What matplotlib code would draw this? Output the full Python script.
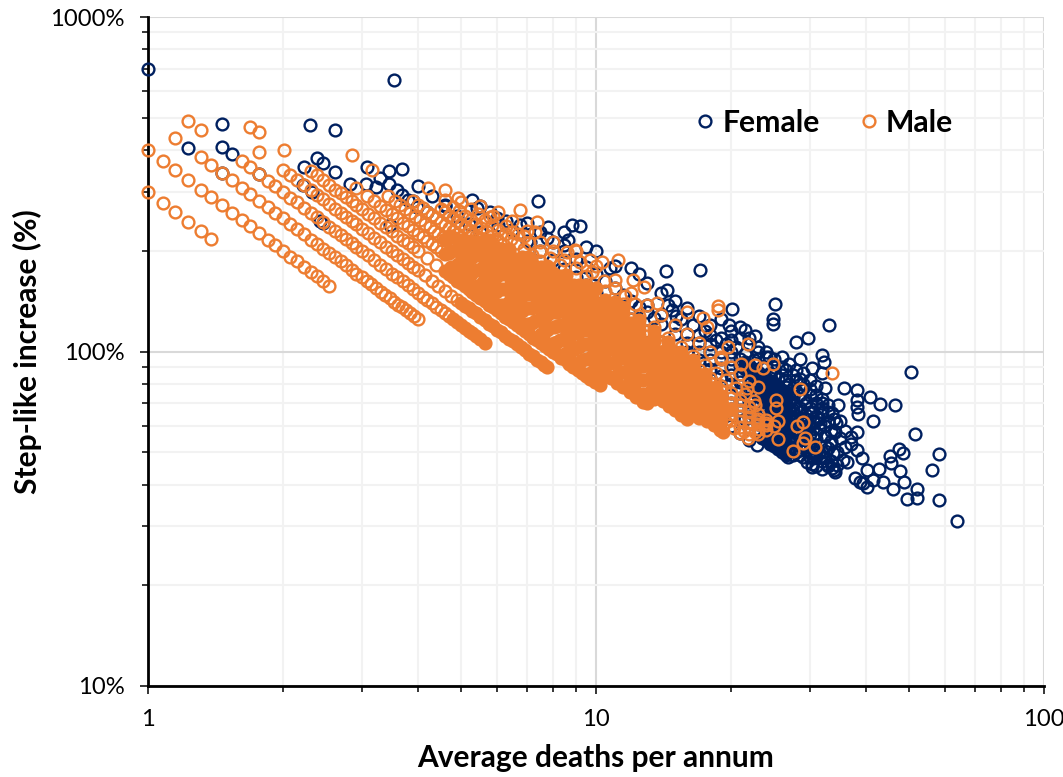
import matplotlib
matplotlib.use('Agg')
import matplotlib.pyplot as plt
from matplotlib.lines import Line2D
from matplotlib.ticker import LogLocator, NullFormatter

# (average deaths per annum, step-like increase %)
female_outliers = [
    (1.0,700),(3.54,649),(1.228,405),(1.46,479),(1.46,408),(1.54,389),(1.46,342),(1.77,339),(2.3,475),(2.61,459),
    (2.23,356),(2.38,379),(2.46,366),(2.61,344),(2.22,315),(2.32,300),(2.42,245),(2.46,243),(3.08,356),(3.45,347),
    (3.69,351),(3.45,317),(3.06,317),(2.82,317),(3.22,310),(3.69,294),(3.8,284),(3.98,270),(3.47,239),(4.6,274),
    (5.3,284),(5.43,268),(5.8,261),(6.04,239),(7.42,282),(6.77,239),(8.85,239),(9.2,238),(8.64,215),(8.5,208),
    (7.78,218),(7.13,212),(10.75,178),(14.3,174),(17.1,175),(14.4,153),(14.5,138),(14.8,133),(15.1,128),(20.1,134),
    (19.8,120),(25.1,139),(24.8,125),(24.8,121),(21.5,116),(22.6,111),(28,107),(29.8,110),(33.2,120),(26,96),
    (24.3,96),(32,97.6),(32.2,93),(30.4,89),(32,86),(50.4,87),(35.8,78),(38.2,76.5),(40.9,73),(43,69.6),
    (46.4,69),(38.2,71.6),(38.2,68.3),(38.4,65),(41.5,62),(51.4,56.7),(58.3,49.4),(56.3,44.3),(47.4,51.2),(48.5,49.7),
    (45.3,48.7),(45.6,46.4),(47.7,44),(42.8,44.5),(48.8,40.7),(43.8,40.7),(46,38.9),(52,38.9),(52,36.5),(49.4,36.2),
    (58.4,36),(64,31.2),(40.3,39.4),(37.8,41.9),(38.9,40.7),(39.5,40.5),(41.5,41.4),(40.2,44.3),(38.2,57.4),(37,55.5),
    (39.2,48.2),(38.2,50.8),(37,53),(36,51.8),(36.4,46.8),(34.2,43.6),(33.6,44.8),(32.9,45.8),(34.5,45.8),(30.4,45.2),
    (29.6,46.8),(34.7,69),(34.4,61),(34.1,57.4),(33.6,65.6),(32,67.7),(32.4,78),(31.6,61),(31,57),(33.8,49.8),
]
female_band = [
    (18,66.7),(19,63.2),(20,60),(21,57.1),(22,54.5),(22.9,52.4),
    (18,72.2),(19,68.4),(20,65),(21,61.9),(22,59.1),(23,56.5),(24,54.2),(25,52),(26,50),(26.8,48.5),
    (20,67.5),(21.5,62.8),(23,58.7),(24.5,55.1),(26,51.9),(27.5,49.1),
    (18,77.8),(19,73.7),(20,70),(21,66.7),(22,63.6),(23,60.9),(24,58.3),(25,56),(26,53.8),(27,51.9),(28,50),(29,48.3),(30.4,46),
    (21,69),(22.5,64.4),(24,60.4),(25.5,56.9),(27,53.7),(28.5,50.9),(30,48.3),
    (16,93.8),(17,88.2),(18,83.3),(19,78.9),(20,75),(21,71.4),(22,68.2),(23,65.2),(24,62.5),(25,60),(26,57.7),(27,55.6),
    (28,53.6),(29,51.7),(30,50),(31,48.4),(32,46.9),(33,45.5),(34,44.1),
    (22,70.5),(23.5,66),(25,62),(26.5,58.5),(28,55.4),(29.5,52.5),(31,50),
    (16,100),(17,94.1),(18,88.9),(19,84.2),(20,80),(21,76.2),(22,72.7),(23,69.6),(24,66.7),(25,64),(26,61.5),(27,59.3),
    (28,57.1),(29,55.2),(30,53.3),(31,51.6),(32,50),
    (15,113),(16,106),(17,100),(18,94.4),(19,89.5),(20,85),(21,81),(22,77.3),(23,73.9),(24,70.8),(25,68),(26,65.4),
    (27,63),(28,60.7),(29,58.6),(30,56.7),(31,54.8),(33,51.5),
    (13,138),(14,129),(15,120),(16,112.5),(17,106),(18,100),(19,94.7),(20,90),(21,85.7),(22,81.8),(23,78.3),(24,75),
    (25,72),(26,69.2),(27,66.7),(28,64.3),(29,62.1),(30,60),
    (17,112),(18,105.6),(19,100),(20,95),(21,90.5),(22,86.4),(23,82.6),(24,79.2),(25,76),(26,73),(27,70.4),(28,67.9),
    (20,100),(21,95.2),(22,90.9),(23,87),(24,83.3),(25,80),(26,76.9),(27,74),
]
female_top = [
    (5.5,273),(6,250),(6.5,231),(7,214),(7.5,200),(8,187.5),(8.5,176),(9,167),(9.5,158),(10,150),(11,136),(12,125),(13,115),(14,107),(15,100),
    (7,243),(7.5,227),(8,212),(8.5,200),(9,189),(9.5,179),(10,170),(10.5,162),(11,155),(11.5,148),(12,142),(12.5,136),(13,131),(13.5,126),(14,121),
    (3.3,330),(3.6,305),(3.9,282),(4.2,262),
    (4,312),(4.3,291),(4.6,272),(4.9,255),(5.2,240),(5.5,227),
    (27,80),(28,76),(29,72),(30,68),(31,64),(29,78),(30,74),(31,70),(32,66),(33,62),(34,58),(32,72),(33,69),(35,62),(36,58),
    (35,55),(33.5,54),(32.5,52),(34.5,50),(35.5,47.5),(31,45.5),(32,44.5),(30,66),(29,86),(30,82),(31,79),(28,88),(27,92),
    (28.5,95),(26,85),(25,90),(24,96),(23,100),(22,105),(21,110),(20,115),(19,125),(18,120),(17,128),(16,135),(15,142),(14,150),
    (13,160),(12.5,170),(12,178),(11,180),(10,200),(9.5,205),(8.5,228),(7.8,235),(6.3,245),
    (27.5,50.9),(28.5,49.1),(27.5,54.5),(28.5,52.6),(29.5,50.8),(27.5,58.2),(28.5,56.1),(29.5,54.2),(30.5,52.5),
    (27.5,61.8),(28.5,59.6),(29.5,57.6),(30.5,55.7),(27.5,65.5),(28.5,63.2),(29.5,61),(27.5,69.1),(27.5,72.7),
    (27.5,78),(28.5,74),(29.5,70),(30.5,66),(31.5,63),(32.5,60),(33.5,58),(28,82),(29,80),(30,77),(31,74),(32,70),(33,66),(34,63),
    (28.5,68),(29.5,64.5),(30.5,62),(31.5,59),(32.5,56),(33.5,53),(30.5,48),(31.5,50),(32.5,48.5),(33.5,47),(26.5,88),(27.5,85),
    (28.5,83),(26,90),(25,95),(24,100),(23,103),(22,110),(23,95),(21,118),(20,108),(19,110),(18,112),(24,90),(25,85),
    (30.5,58.5),(29.5,59.5),(28.5,66),(27.5,67),(27.5,75.5),(26.5,78.5),(26.5,82),(25.5,83),(24.5,86),(23.5,90),(22.5,94),
    (21.5,98),(20.5,103),(19.5,105),(18.5,108),(17.5,115),(16.5,120),(15.5,125),
]
# densest patch of the female cloud, rings closed up
female_core = [
    (23.5,55.3),(24.5,53),(25.5,51),(26.5,49),
    (24.5,57.1),(25.5,54.9),(26.5,52.8),
    (24.5,61.2),(25.5,58.8),(26.5,56.6),
    (24.5,65.3),(25.5,62.7),(26.5,60.4),
    (23.5,72.3),(24.5,69.4),(25.5,66.7),(26.5,64.2),
    (22.5,80),(23.5,76.6),(24.5,73.5),(25.5,70.6),(26.5,67.9),
    (21.5,88.4),(22.5,84.4),(23.5,80.9),(24.5,77.6),(25.5,74.5),(26.5,71.7),
    (21.5,93),(22.5,88.9),(23.5,85.1),(24.5,81.6),(25.5,78.4),(26.5,75.5),
]

male_low = [
    (1.0,300),(1.08,278),(1.15,261),(1.23,244),(1.31,229),(1.38,217),
    (1.0,400),(1.08,370),(1.15,348),(1.23,325),(1.31,305),(1.38,290),(1.46,274),(1.54,260),(1.62,247),(1.69,237),(1.77,226),
    (1.85,216),(1.92,208),(2.0,200),(2.08,192),(2.15,186),(2.23,179),(2.31,173),(2.38,168),(2.46,163),(2.54,157),
    (1.15,435),(1.31,382),(1.38,362),(1.46,342),(1.54,325),(1.62,309),(1.69,296),(1.77,282),(1.85,270),(1.92,260),(2.0,250),
    (2.08,240),(2.15,233),(2.23,224),(2.31,216),(2.38,210),(2.46,203),(2.54,197),(2.62,191),(2.69,186),(2.77,181),(2.85,175),
    (2.92,171),(3.0,167),(3.08,162),(3.15,159),(3.23,155),(3.31,151),(3.38,148),(3.46,145),(3.54,141),(3.62,138),(3.69,136),
    (3.77,133),(3.85,130),(3.92,128),(4.0,125),
    (1.62,370),(1.69,355),(1.77,339),(1.85,324),(1.92,312),(2.0,300),(2.08,288),(2.15,279),(2.23,269),(2.31,260),(2.38,252),
    (2.46,244),(2.54,236),(2.62,229),(2.69,223),(2.77,217),(2.85,211),(2.92,205),(3.0,200),(3.1,194),(3.2,188),(3.3,182),
    (3.4,176),(3.5,171),(3.6,167),(3.7,162),(3.8,158),(3.9,154),(4.0,150),(4.1,146),(4.2,143),(4.3,140),(4.4,136),(4.5,133),
    (4.6,130),(4.7,128),
    (2.0,350),(2.08,337),(2.15,326),(2.23,314),(2.31,303),(2.38,294),(2.46,285),(2.54,276),(2.62,267),(2.69,260),(2.77,253),
    (2.85,246),(2.92,240),(3.0,233),(3.1,226),(3.2,219),(3.3,212),(3.4,206),(3.5,200),(3.6,194),(3.7,189),(3.8,184),(3.9,179),
    (4.0,175),(4.15,169),(4.3,163),(4.45,157),(4.6,152),(4.75,147),(4.9,143),
    (2.31,346),(2.38,336),(2.46,325),(2.54,315),(2.62,305),(2.69,297),(2.77,289),(2.85,281),(2.92,274),(3.0,267),(3.1,258),
    (3.2,250),(3.3,242),(3.4,235),(3.5,229),(3.6,222),(3.7,216),(3.8,211),(3.9,205),(4.0,200),(4.2,190),(4.4,182),
]
male_high = [
    (2.92,308),(3.08,292),(3.2,281),(3.3,273),(3.4,265),(3.5,257),(3.6,250),(3.7,243),(3.8,237),(3.9,231),(4.0,225),(4.1,220),
    (4.2,214),(4.3,209),(4.4,205),(4.5,200),
    (3.43,292),(3.55,282),(3.65,274),(3.75,267),(3.85,260),(3.95,253),(4.05,247),(4.15,241),(4.25,235),(4.35,230),(4.45,225),
    (4.55,220),(4.7,213),(4.85,206),
    (3.9,282),(4.0,275),(4.1,268),(4.2,262),(4.3,256),(4.4,250),(4.5,244),(4.6,239),(4.7,234),(4.8,229),(4.9,224),(5.0,220),(5.15,214),
    (4.5,267),(4.6,261),(4.7,255),(4.8,250),(4.9,245),(5.0,240),(5.1,235),(5.2,231),(5.3,226),(5.4,222),(5.5,218),
    (4.6,283),(4.8,271),(4.95,263),(5.1,255),(5.25,248),(5.4,241),(5.55,234),(5.7,228),(5.85,222),(6.0,217),(6.2,210),
    (5.0,280),(5.25,267),(5.45,257),(5.65,248),(5.85,239),(6.05,231),(6.25,224),(6.45,217),(6.65,211),(6.9,203),(7.2,194),(7.5,187),
    (5.5,273),(5.9,254),(6.3,238),(6.7,224),(7.1,211),(7.5,200),(7.9,190),(8.3,181),
    (6.5,246),(7,229),(7.5,213),(8,200),(8.5,188),(9,178),
    (8,212),(8.6,198),(9.2,185),(9.8,173),(10.4,163),(11,155),(11.6,147),(12.2,139),
    (19.5,61.5),(20.3,59),(21,57),(21.8,55),
    (17,76.5),(18,72),(19,68.4),(20,65),(21,62),(22,59),(23,56.5),
    (14,100),(15,93.3),(16,87.5),(17,82.4),(18,77.8),(19,73.7),(20,70),(21,66.7),(22,63.6),(23,60.9),(24,58.3),
    (12,125),(13,115),(14,107),(15,100),(16,93.8),(17,88.2),(18,83.3),(19,78.9),(20,75),(21,71.4),(22,68.2),(23,65.2),(24,62.5),(25,60),
    (9.5,168),(10.5,152),(11.5,139),(12.5,128),(13.5,118.5),(14.5,110),(15.5,103),(16.5,97),(17.5,91.4),(18.5,86.5),(19.5,82),(20.5,78),(21.5,74.4),(22.5,71),
    (9,200),(10,180),(11,164),(12,150),(13,138),(14,128.6),(15,120),(16,112.5),(17,106),(18,100),(19,94.7),(20,90),(21,85.7),(22,81.8),(23,78.3),
    (15,90),(16,84.4),(17,79.4),(18,75),(19,71),(20,67.5),(21,64.3),(22,61.4),(23,58.7),
    (13,111.5),(14,103.6),(15,96.7),(16,90.6),(17,85.3),(18,80.6),(19,76.3),(20,72.5),(21,69),(22,66),(23,63),(24,60.4),
    (18,69.4),(19,65.8),(20,62.5),(21,59.5),(22,56.8),
]
male_outliers = [
    (1.23,488),(1.31,458),(1.69,469),(1.77,453),(1.77,394),(2.01,399),(2.85,386),(3.16,349),(4.22,308),(4.6,304),
    (4.92,288),(6.04,261),(6.76,265),(7.37,244),(7.3,228),(5.8,252),(6.5,228),(6.9,222),(8.96,201),(9.7,188),
    (10.3,185),(11.2,188),(12.1,164),(12.8,156),(13.7,140),(16,131),(17.3,126),(17.7,118),(18.7,137),(18.7,133),
    (19.7,103),(21.8,105),(24.8,92),(23.6,89),(22.6,91),(19,96),(21.1,92),(28.6,77),(33.6,86),(25.2,71.6),
    (25.2,67.7),(25.5,62),(28.1,60),(29,61.5),(25.5,54.7),(27.5,50.4),(29,53.2),(29.3,55.2),(30.8,51.8),(21.7,78),
    (22.6,69),(22.9,62),(21.4,58),(22.7,57.5),(24,61),
]
# the part of the male cloud where the rings overlap into a solid mass
male_core = [
    (4.8,125),(4.9,122.4),(5.0,120),(5.1,117.6),(5.2,115),(5.3,113.2),(5.4,111),(5.52,108.7),(5.65,106),
    (5.0,140),(5.1,137),(5.2,135),(5.3,132),(5.4,130),(5.52,127),(5.65,124),(5.78,121),(5.9,119),(6.02,116),(6.15,114),(6.28,111.5),
    (6.4,109),(6.52,107.4),(6.65,105),(6.8,103),(6.95,101),(7.1,98.6),(7.25,97),(7.4,94.6),(7.55,93),(7.67,91.3),(7.78,90),
    (4.6,174),(4.7,170),(4.8,167),(4.9,163),(5.0,160),(5.1,157),(5.2,154),(5.3,151),(5.4,148),(5.52,145),(5.65,142),(5.78,138),
    (5.9,136),(6.02,133),(6.15,130),(6.28,127),(6.4,125),(6.52,122.7),(6.65,120),(6.8,117.6),(6.95,115),(7.1,112.7),(7.25,110),
    (7.4,108),(7.55,106),(7.7,104),(7.85,102),(8.03,99.6),(8.2,98),(8.37,95.6),(8.55,94),(8.72,91.7),(8.9,90),(9.1,88),(9.3,86),
    (9.5,84.2),(9.7,82.5),(9.95,80.8),(10.2,79.5),
    (4.75,179),(5.07,168),(5.42,157),(5.79,147),(6.18,138),(6.6,129),(7.05,121),(7.53,113),(8.04,106),(8.59,99),(9.18,92.6),(9.8,86.7),
    (4.6,196),(4.91,183),(5.25,171),(5.6,161),(5.98,151),(6.39,141),(6.82,132),(7.29,123),(7.78,116),(8.31,108),(8.88,101),(9.48,95),
    (10.1,89),(10.45,86),(10.8,83.3),(11.15,80.7),(11.5,78.3),(11.9,75.6),(12.3,73.2),(12.75,70.6),(13.0,70),
    (4.75,200),(5.07,187),(5.42,175),(5.79,164),(6.18,154),(6.6,144),(7.05,135),(7.53,126),(8.04,118),(8.59,111),(9.18,103),(9.8,97),
    (10.45,91),(11.15,85),(11.9,80),(12.75,74.5),
    (4.6,217),(4.91,204),(5.25,190),(5.6,179),(5.98,167),(6.39,156),(6.82,147),(7.29,137),(7.78,129),(8.31,120),(8.88,113),(9.48,105.5),
    (10.1,99),(10.8,92.6),(11.5,87),(12.3,81.3),(13.2,75.8),(13.6,73.5),(14.1,71),(14.55,68.7),(15.0,66.7),(15.5,64.5),(16.0,63),
    (4.75,221),(5.07,207),(5.42,194),(5.79,181),(6.18,170),(6.6,159),(7.05,149),(7.53,139),(8.04,131),(8.59,122),(9.18,114),(9.8,107),
    (10.45,100),(11.15,94),(11.9,88),(12.75,82),(13.6,77),(14.55,72),(15.5,68),
    (5.25,210),(5.6,196),(5.98,184),(6.39,172),(6.82,161),(7.29,151),(7.78,141),(8.31,132),(8.88,124),(9.48,116),(10.1,109),(10.8,102),
    (11.5,95.7),(12.3,89.4),(13.2,83.3),(14.1,78),(15.0,73.3),(16.0,68.8),(16.55,66.5),(17.1,64.3),(17.7,62.1),(18.3,60.1),(18.9,58.2),(19.2,57.3),
    (5.42,212),(5.79,199),(6.18,186),(6.6,174),(7.05,163),(7.53,153),(8.04,143),(8.59,134),(9.18,125),(9.8,117),(10.45,110),(11.15,103),
    (11.9,96.6),(12.75,90.2),(13.6,84.6),(14.55,79),(15.5,74.2),(16.55,69.5),(17.7,65),
    (5.6,214),(5.98,201),(6.39,188),(6.82,176),(7.29,165),(7.78,154),(8.31,144),(8.88,135),(9.48,127),(10.1,119),(10.8,111),(11.5,104),
    (12.3,97.6),(13.2,90.9),(14.1,85.1),(15.0,80),(16.0,75),(17.1,70.2),(18.3,65.6),
    (5.79,216),(6.18,202),(6.6,189),(7.05,177),(7.53,166),(8.04,155),(8.59,146),(9.18,136),(9.8,128),(10.45,120),(11.15,112),(11.9,105),
    (12.75,98),(13.6,92),(14.55,86),(15.5,80.6),(16.55,75.5),(17.7,70.6),
    (6.39,203),(6.82,191),(7.29,178),(7.78,167),(8.31,156),(8.88,146),(9.48,137),(10.1,129),(10.8,120),(11.5,113),(12.3,106),(13.2,98.5),
    (14.1,92.2),(15.0,86.7),(16.0,81.3),
    (7.05,191),(7.53,179),(8.04,168),(8.59,157),(9.18,147),(9.8,138),(10.45,129),(11.15,121),(11.9,113),(12.75,106),(13.6,99),(14.55,93),
    (7.78,180),(8.31,168),(8.88,158),(9.48,148),(10.1,139),(10.8,130),(11.5,122),(12.3,114),(13.2,106),
    (8.59,169),(9.18,158),(9.8,148),(10.45,139),(11.15,130),(11.9,122),
    (4.7,175.5),(5.3,155.7),(6.0,137.5),(6.8,121.3),(7.7,107.1),(8.7,94.8),(9.6,85.9),
    (5.0,175),(5.65,155),(6.4,136.7),(7.2,121.5),(8.2,106.7),(9.3,94),(10.2,85.8),
    (4.7,197),(5.3,174.5),(6.0,154),(6.8,136),(7.7,120),(8.7,106),(9.8,94.4),(11.0,84),(12.2,75.8),
    (5.0,195),(5.65,172.6),(6.4,152),(7.2,135),(8.2,119),(9.3,105),(10.5,93),(11.9,82),(13.5,72),
    (4.7,218),(5.3,193),(6.0,171),(6.8,151),(7.7,133),(8.7,118),(9.8,104.6),(11,93),(12.4,82.7),(14,73.2),(15.3,67),
    (5.0,215),(5.65,190),(6.4,168),(7.2,149),(8.2,131),(9.3,115.6),(10.5,102.4),(11.9,90.3),(13.4,80.2),(15.2,70.7),(17,63.2),
    (5.3,212),(6.0,187.5),(6.8,165),(7.7,146),(8.7,129),(9.8,114.8),(11,102),(12.4,90.7),(14,80.4),(15.8,71.2),(17.8,63.2),
    (5.65,208),(6.4,183.6),(7.2,163),(8.2,143),(9.3,126),(10.5,112),(11.9,98.7),(13.4,87.7),(15.2,77.3),(17,69),(19,61.8),
    (6.0,204),(6.8,180),(7.7,159),(8.7,141),(9.8,125),(11,111.4),(12.4,98.8),(14,87.5),(15.8,77.5),(17.8,68.8),
    (6.4,199),(7.2,177),(8.2,155.5),(9.3,137),(10.5,121.4),(11.9,107),(13.4,95),(15.2,84),(17,75),
    (7.2,184),(8.2,161.6),(9.3,142.5),(10.5,126),(11.9,111),(13.4,99),(15,88),
    (8,172),(9,153),(10,137.5),(11.2,122.8),(12.5,110),(13.9,99),
    (15,90),(16,84.4),(17,79.4),(18,75),(19,71),(20,67.5),
    (12.5,112),(14,100),(15,93.3),(16,87.5),(17,82.4),(18,77.8),(19,73.7),
    (12.5,116),(13.5,107.4),(14.5,100),(15.5,93.5),(16.5,87.9),(17.5,82.9),(18.5,78.4),
    (11.5,130.4),(12.5,120),(13.5,111),(14.5,103.4),(15.5,96.8),(16.5,90.9),(17.5,85.7),
    (11.5,134.8),(12.5,124),(13.5,114.8),(14.5,106.9),(15.5,100),(16.5,94),
    (14.5,89.7),(15.5,83.9),(16.5,78.8),(17.5,74.3),(18.5,70.3),(19.5,66.7),
    (9.5,158),(10.5,143),(10,155),(11,141),
]

x_ticks = [1, 10, 100]
x_tick_labels = ['1', '10', '100']
y_ticks = [10, 100, 1000]
y_tick_labels = ['10%', '100%', '1000%']

NAVY = '#002060'
ORANGE = '#ED7D31'
MS = 8.5
MEW = 1.7

plt.rcParams['font.family'] = ['Lato', 'DejaVu Sans']

fig = plt.figure(figsize=(10.63, 7.77), dpi=100)
ax = fig.add_axes([148 / 1063, 1 - 686 / 777, (1044 - 148) / 1063, (686 - 17) / 777])
ax.set_xscale('log')
ax.set_yscale('log')
ax.set_xlim(1, 100)
ax.set_ylim(10, 1000)


def rings(points, color, mfc='none', zorder=5):
    xs = [p[0] for p in points]
    ys = [p[1] for p in points]
    ax.plot(xs, ys, ls='none', marker='o', ms=MS, mew=MEW, mec=color, mfc=mfc, clip_on=False, zorder=zorder)


rings(female_outliers, NAVY)
rings(female_top, NAVY)
rings(female_band, NAVY)
rings(female_core, NAVY, mfc=NAVY)
rings(male_low, ORANGE, zorder=6)
rings(male_high, ORANGE, zorder=6)
rings(male_outliers, ORANGE, zorder=6)
rings(male_core, ORANGE, mfc=ORANGE, zorder=6)

# gridlines and axes
ax.xaxis.set_minor_locator(LogLocator(base=10, subs=range(2, 10), numticks=5))
ax.yaxis.set_minor_locator(LogLocator(base=10, subs=range(2, 10), numticks=5))
ax.xaxis.set_minor_formatter(NullFormatter())
ax.yaxis.set_minor_formatter(NullFormatter())
ax.set_xticks(x_ticks, x_tick_labels)
ax.set_yticks(y_ticks, y_tick_labels)
ax.grid(True, which='minor', color='#F2F2F2', lw=1.5, zorder=0)
ax.grid(True, which='major', color='#D9D9D9', lw=1.5, zorder=1)
ax.set_axisbelow(True)
ax.spines['top'].set_visible(False)
ax.spines['right'].set_visible(False)
ax.spines['left'].set_linewidth(2)
ax.spines['bottom'].set_linewidth(2)
ax.tick_params(which='major', length=5.8, width=1.1, labelsize=17.2, pad=10.8)
ax.tick_params(which='minor', length=4, width=1.1)
ax.set_xlabel('Average deaths per annum', fontsize=21.5, fontweight='bold', va='center')
ax.set_ylabel('Step-like increase (%)', fontsize=21.5, fontweight='bold', va='center')
ax.xaxis.set_label_coords(0.5, -0.1076)
ax.yaxis.set_label_coords(-0.135, 0.5)

handles = [
    Line2D([], [], ls='none', marker='o', ms=MS, mew=MEW, mec=NAVY, mfc='none', label='Female'),
    Line2D([], [], ls='none', marker='o', ms=MS, mew=MEW, mec=ORANGE, mfc='none', label='Male'),
]
ax.legend(handles=handles, ncol=2, frameon=False, loc='center left', bbox_to_anchor=(0.605, 0.8415),
          prop={'size': 21.7, 'weight': 'bold'}, handlelength=1, handletextpad=0.07, columnspacing=1.13,
          borderpad=0, borderaxespad=0)

fig.savefig('out.png', dpi=100)
